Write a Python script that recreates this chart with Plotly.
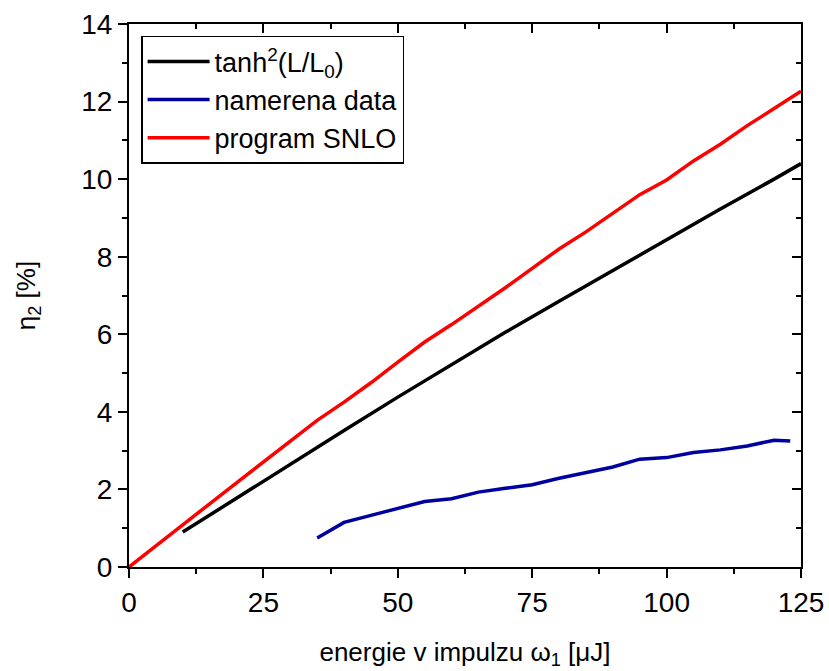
import plotly.graph_objects as go

# tanh^2(L/L0) model
x_tanh = [10, 20, 30, 40, 50, 60, 70, 80, 90, 100, 110, 120, 125]
y_tanh = [0.90, 1.78, 2.65, 3.52, 4.38, 5.22, 6.05, 6.85, 7.65, 8.45, 9.23, 10.0, 10.4]

# measured data
x_meas = [35, 40, 45, 50, 55, 60, 65, 70, 75, 80, 85, 90, 95, 100, 105, 110, 115, 120, 123]
y_meas = [0.75, 1.15, 1.33, 1.51, 1.69, 1.76, 1.93, 2.03, 2.12, 2.29, 2.43, 2.58, 2.78, 2.82, 2.95, 3.02, 3.12, 3.27, 3.25]

# SNLO program
x_snlo = [0, 5, 10, 15, 20, 25, 30, 35, 40, 45, 50, 55, 60, 65, 70, 75, 80, 85, 90, 95, 100, 105, 110, 115, 120, 125]
y_snlo = [0, 0.55, 1.1, 1.63, 2.17, 2.7, 3.24, 3.78, 4.25, 4.75, 5.28, 5.8, 6.25, 6.72, 7.2, 7.7, 8.2, 8.64, 9.12, 9.6, 9.98, 10.47, 10.9, 11.38, 11.82, 12.27]

x_ticks = [0, 25, 50, 75, 100, 125]
y_ticks = [0, 2, 4, 6, 8, 10, 12, 14]

FONT = "Liberation Sans, Arial, sans-serif"

fig = go.Figure()
fig.add_trace(go.Scatter(x=x_tanh, y=y_tanh, mode="lines", name="tanh<sup>2</sup>(L/L<sub>0</sub>)",
                         line=dict(color="black", width=3.5)))
fig.add_trace(go.Scatter(x=x_meas, y=y_meas, mode="lines", name="namerena data",
                         line=dict(color="#0000A0", width=3.5)))
fig.add_trace(go.Scatter(x=x_snlo, y=y_snlo, mode="lines", name="program SNLO",
                         line=dict(color="#FF0000", width=3.5)))
# invisible trace for mirrored axes
fig.add_trace(go.Scatter(x=[0], y=[0], xaxis="x2", yaxis="y2", mode="markers",
                         marker=dict(opacity=0), showlegend=False, hoverinfo="skip"))

axcommon = dict(showgrid=False, zeroline=False, showline=True, linecolor="black", linewidth=2,
                tickcolor="black", tickwidth=2, automargin=False)

fig.update_layout(
    width=829, height=671,
    paper_bgcolor="white", plot_bgcolor="white",
    margin=dict(l=129, r=28, t=24, b=104),
    font=dict(family=FONT, color="black", size=24),
    xaxis=dict(range=[0, 125], tickvals=x_ticks, ticks="outside", ticklen=9,
               minor=dict(dtick=12.5, tick0=0, ticks="outside", ticklen=5, tickcolor="black", tickwidth=2),
               tickfont=dict(size=28), title=dict(text="energie v impulzu ω<sub>1</sub> [μJ]", font=dict(size=26), standoff=26),
               **axcommon),
    yaxis=dict(range=[0, 14], tickvals=y_ticks, ticks="outside", ticklen=9,
               minor=dict(dtick=1, tick0=0, ticks="outside", ticklen=5, tickcolor="black", tickwidth=2),
               tickfont=dict(size=28), title=dict(text="η<sub>2</sub> [%]", font=dict(size=26), standoff=38),
               **axcommon),
    xaxis2=dict(range=[0, 125], overlaying="x", side="top", tickvals=x_ticks, ticks="inside", ticklen=9,
                minor=dict(dtick=12.5, tick0=0, ticks="inside", ticklen=5, tickcolor="black", tickwidth=2),
                showticklabels=False, **axcommon),
    yaxis2=dict(range=[0, 14], overlaying="y", side="right", tickvals=y_ticks, ticks="inside", ticklen=9,
                minor=dict(dtick=1, tick0=0, ticks="inside", ticklen=5, tickcolor="black", tickwidth=2),
                showticklabels=False, **axcommon),
    legend=dict(x=0.018, y=0.978, xanchor="left", yanchor="top", bgcolor="white",
                bordercolor="black", borderwidth=1.5, font=dict(size=27), tracegroupgap=0,
                itemwidth=62),
    showlegend=True,
)

fig.write_html("out.html")
